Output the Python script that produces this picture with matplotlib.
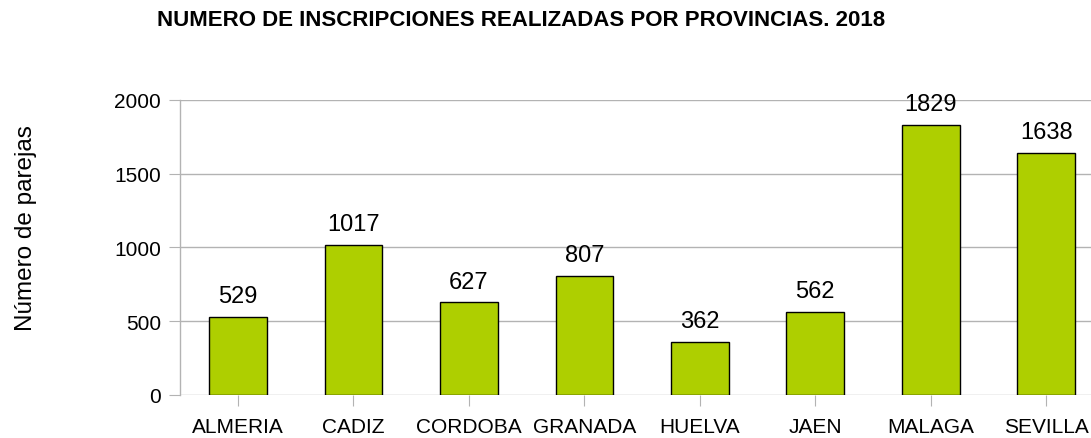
import matplotlib
matplotlib.use("Agg")
import matplotlib.pyplot as plt
import numpy as np

plt.rcParams['font.family'] = ['Liberation Sans', 'DejaVu Sans']

# data
provincias = ["ALMERIA", "CADIZ", "CORDOBA", "GRANADA", "HUELVA", "JAEN", "MALAGA", "SEVILLA"]
parejas = [529, 1017, 627, 807, 362, 562, 1829, 1638]
yticks = [0, 500, 1000, 1500, 2000]

W, H = 1091, 439
fig = plt.figure(figsize=(W / 100, H / 100), dpi=100)
# axes runs past the right edge like the original
ax = fig.add_axes([180.25 / W, 43 / H, (1104 - 180.25) / W, 295.3 / H])

x = np.arange(len(provincias))
bars = ax.bar(x, parejas, width=0.5, color="#aecf00", edgecolor="black", linewidth=1.0, zorder=3)

for b, v in zip(bars, parejas):
    ax.annotate(str(v), (b.get_x() + b.get_width() / 2, v), xytext=(0, 7),
                textcoords="offset points", ha="center", va="bottom", fontsize=17)

ax.set_xlim(-0.5, len(provincias) - 0.5)
ax.set_ylim(0, 2000)
ax.set_yticks(yticks)
ax.set_xticks(x)
ax.set_xticklabels(provincias)
ax.grid(axis="y", color="#b3b3b3", linewidth=1.0, zorder=0)

for s in ["top", "right", "bottom"]:
    ax.spines[s].set_visible(False)
ax.spines["left"].set_color("#b3b3b3")
ax.spines["left"].set_linewidth(1.0)

ax.tick_params(axis="y", length=8, color="#b3b3b3", pad=6, labelsize=15)
ax.tick_params(axis="x", length=8, color="#b3b3b3", pad=8, labelsize=15)

ax.set_ylabel("Número de parejas", fontsize=17.5)
ax.yaxis.set_label_coords(-(180.25 - 26) / (1104 - 180.25), (396 - 228) / 295.3)
ax.yaxis.label.set_va("center")

fig.text(521 / W, 1 - 20 / H, "NUMERO DE INSCRIPCIONES REALIZADAS POR PROVINCIAS. 2018",
         ha="center", va="center", fontsize=16, fontweight="bold")

fig.savefig("out.png", dpi=100)
